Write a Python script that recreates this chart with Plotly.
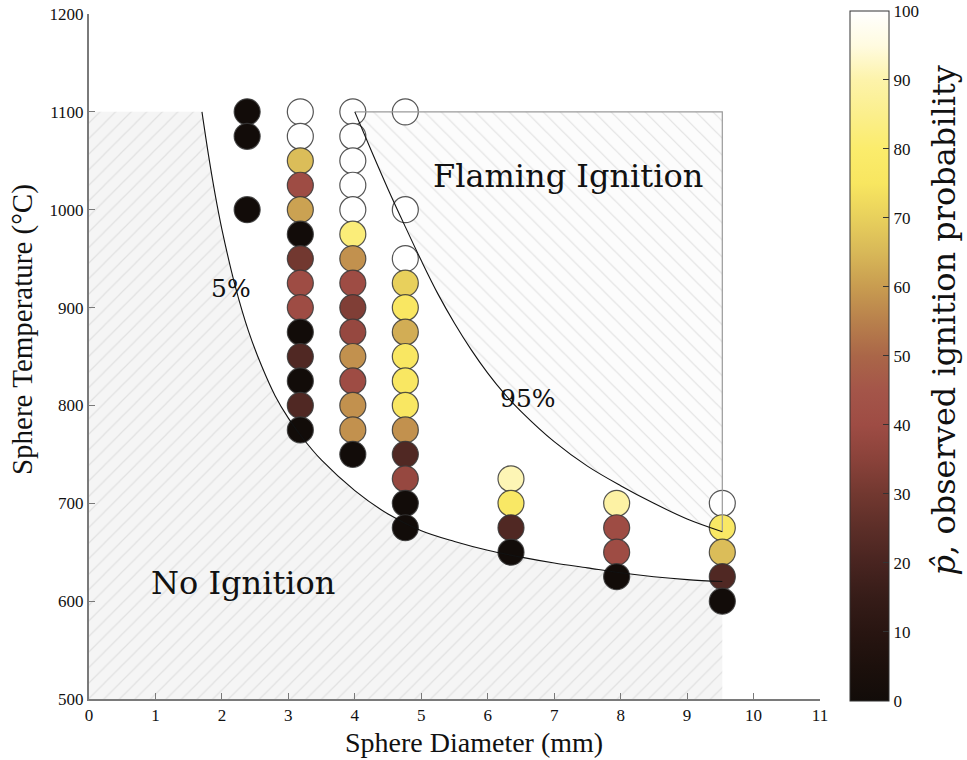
import plotly.graph_objects as go

# Sphere diameters (mm) and the temperatures tested at each (°C)
d_col = [2.38, 3.18, 3.97, 4.76, 6.35, 7.94, 9.53]
temps_by_col = [
    [1100, 1075, 1000],
    [1100, 1075, 1050, 1025, 1000, 975, 950, 925, 900, 875, 850, 825, 800, 775],
    [1100, 1075, 1050, 1025, 1000, 975, 950, 925, 900, 875, 850, 825, 800, 775, 750],
    [1100, 1000, 950, 925, 900, 875, 850, 825, 800, 775, 750, 725, 700, 675],
    [725, 700, 675, 650],
    [700, 675, 650, 625],
    [700, 675, 650, 625, 600],
]
# Observed ignition probability (%) at each test condition
prob_by_col = [
    [0, 0, 0],
    [100, 100, 66, 40, 61, 0, 30, 40, 40, 0, 22, 0, 22, 0],
    [100, 100, 100, 100, 100, 82, 58, 40, 33, 38, 58, 40, 58, 58, 0],
    [100, 100, 100, 70, 76, 63, 76, 76, 76, 58, 22, 38, 0, 0],
    [91, 77, 22, 0],
    [89, 40, 40, 0],
    [100, 77, 66, 22, 0],
]

# Fitted 5 % and 95 % ignition probability contours
p05_d = [1.70, 1.80, 1.90, 2.00, 2.20, 2.40, 2.60, 2.80, 3.00, 3.20, 3.50, 4.00,
         4.50, 5.00, 5.50, 6.00, 6.50, 7.00, 7.50, 8.00, 8.50, 9.00, 9.53]
p05_T = [1100, 1055, 1015, 980, 922, 876, 840, 810, 787, 768, 744, 713,
         689, 672, 661, 652, 645, 639, 634, 629, 625, 622, 620]
p95_d = [4.00, 4.25, 4.50, 4.75, 5.00, 5.25, 5.50, 5.75, 6.00, 6.25, 6.50,
         7.00, 7.50, 8.00, 8.50, 9.00, 9.53]
p95_T = [1100, 1060, 1021, 984, 948, 914, 884, 857, 833, 812, 794,
         763, 738, 718, 700, 684, 671]

x_ticks = list(range(0, 12))
y_ticks = list(range(500, 1300, 100))

cmap = [
    [0.00, "#120c09"], [0.05, "#1c100c"], [0.10, "#281511"], [0.15, "#361c18"],
    [0.20, "#482420"], [0.25, "#5c2e28"], [0.30, "#723830"], [0.35, "#8a423a"],
    [0.40, "#9e4c44"], [0.45, "#a45549"], [0.50, "#aa6648"], [0.55, "#b8804c"],
    [0.60, "#c89c50"], [0.65, "#d8b858"], [0.70, "#e8d05c"], [0.75, "#f8e660"],
    [0.80, "#fbec6c"], [0.85, "#fbef8c"], [0.90, "#fdf3aa"], [0.95, "#fffbe0"],
    [1.00, "#ffffff"],
]

xs, ys, ps = [], [], []
for d, tl, pl in zip(d_col, temps_by_col, prob_by_col):
    for t, p in zip(tl, pl):
        xs.append(d)
        ys.append(t)
        ps.append(p)

d_max = max(d_col)
t_top = max(max(t) for t in temps_by_col)
x_lo, y_lo = x_ticks[0], y_ticks[0]

serif = "Liberation Serif"
cm_like = "DejaVu Serif"
fig = go.Figure()

# No-ignition region: below the 5 % contour
fig.add_trace(go.Scatter(
    x=[x_lo, x_lo] + p05_d + [d_max, x_lo],
    y=[y_lo, t_top] + p05_T + [y_lo, y_lo],
    mode="lines", fill="toself", line=dict(width=0),
    fillcolor="#f5f5f5",
    fillpattern=dict(shape="/", bgcolor="#f5f5f5", fgcolor="#cdcdcd",
                     size=11, solidity=0.11),
    hoverinfo="skip", showlegend=False))

# Flaming-ignition region: above the 95 % contour
fig.add_trace(go.Scatter(
    x=[p95_d[0], d_max] + p95_d[::-1],
    y=[t_top, t_top] + p95_T[::-1],
    mode="lines", fill="toself", line=dict(width=0),
    fillcolor="#fcfcfc",
    fillpattern=dict(shape="\\", bgcolor="#fcfcfc", fgcolor="#c8c8c8",
                     size=12, solidity=0.10),
    hoverinfo="skip", showlegend=False))

# Test conditions coloured by observed probability
fig.add_trace(go.Scatter(
    x=xs, y=ys, mode="markers",
    marker=dict(
        size=26, color=ps, cmin=0, cmax=100, colorscale=cmap,
        line=dict(color="rgba(55,55,55,0.85)", width=1.2),
        colorbar=dict(
            x=1.041, xanchor="left", y=1.0044, yanchor="top",
            len=690, lenmode="pixels", thickness=39, thicknessmode="pixels",
            xpad=0, ypad=0,
            outlinecolor="#333333", outlinewidth=1,
            tickvals=list(range(0, 101, 10)), ticks="inside", ticklen=6,
            tickcolor="#333333",
            tickfont=dict(family=serif, size=17, color="#111111"),
        ),
    ),
    hoverinfo="skip", showlegend=False))

# Border of the flaming-ignition region
fig.add_trace(go.Scatter(
    x=[p95_d[0], d_max, d_max], y=[t_top, t_top, p95_T[-1]],
    mode="lines", line=dict(color="#9a9a9a", width=1.2),
    hoverinfo="skip", showlegend=False))

# Probability contours
for dd, tt in ((p05_d, p05_T), (p95_d, p95_T)):
    fig.add_trace(go.Scatter(
        x=dd, y=tt, mode="lines", line=dict(color="#111111", width=1.1, shape="spline"),
        hoverinfo="skip", showlegend=False))

ann_font = dict(family=cm_like, color="#111111")
annotations = [
    dict(x=7.21, y=1034, text="Flaming Ignition", font=dict(size=32, **ann_font)),
    dict(x=2.32, y=619, text="No Ignition", font=dict(size=32, **ann_font)),
    dict(x=2.14, y=920, text="5%", font=dict(size=25, **ann_font)),
    dict(x=6.61, y=807, text="95%", font=dict(size=25, **ann_font)),
]
for a in annotations:
    a.update(xref="x", yref="y", showarrow=False)

title_font = dict(family=serif, size=28, color="#111111")
annotations += [
    dict(x=1.169, y=0.552, xref="paper", yref="paper", textangle=-90,
         xanchor="center", yanchor="middle",
         showarrow=False, text="<i>p̂</i>, observed ignition probability",
         font=dict(family=cm_like, size=32, color="#111111")),
    dict(x=0.527, y=-0.064, xref="paper", yref="paper", showarrow=False,
         xanchor="center", yanchor="middle",
         text="Sphere Diameter (mm)", font=title_font),
    dict(x=-0.0917, y=0.54, xref="paper", yref="paper", textangle=-90,
         xanchor="center", yanchor="middle",
         showarrow=False, text="Sphere Temperature (°C)",
         font=dict(family=serif, size=29, color="#111111")),
]

axis_common = dict(
    showline=True, linecolor="#7a7a7a", linewidth=2, ticks="inside", ticklen=6,
    tickcolor="#7a7a7a", showgrid=False, zeroline=False,
    tickfont=dict(family=serif, size=17, color="#111111"),
)
fig.update_layout(
    width=967, height=760,
    margin=dict(l=89, r=147, t=14, b=61, autoexpand=False),
    paper_bgcolor="white", plot_bgcolor="white",
    xaxis=dict(range=[x_ticks[0], x_ticks[-1]], tickvals=x_ticks, **axis_common),
    yaxis=dict(range=[y_ticks[0], y_ticks[-1]], tickvals=y_ticks, **axis_common),
    annotations=annotations,
)

fig.write_html("out.html")
